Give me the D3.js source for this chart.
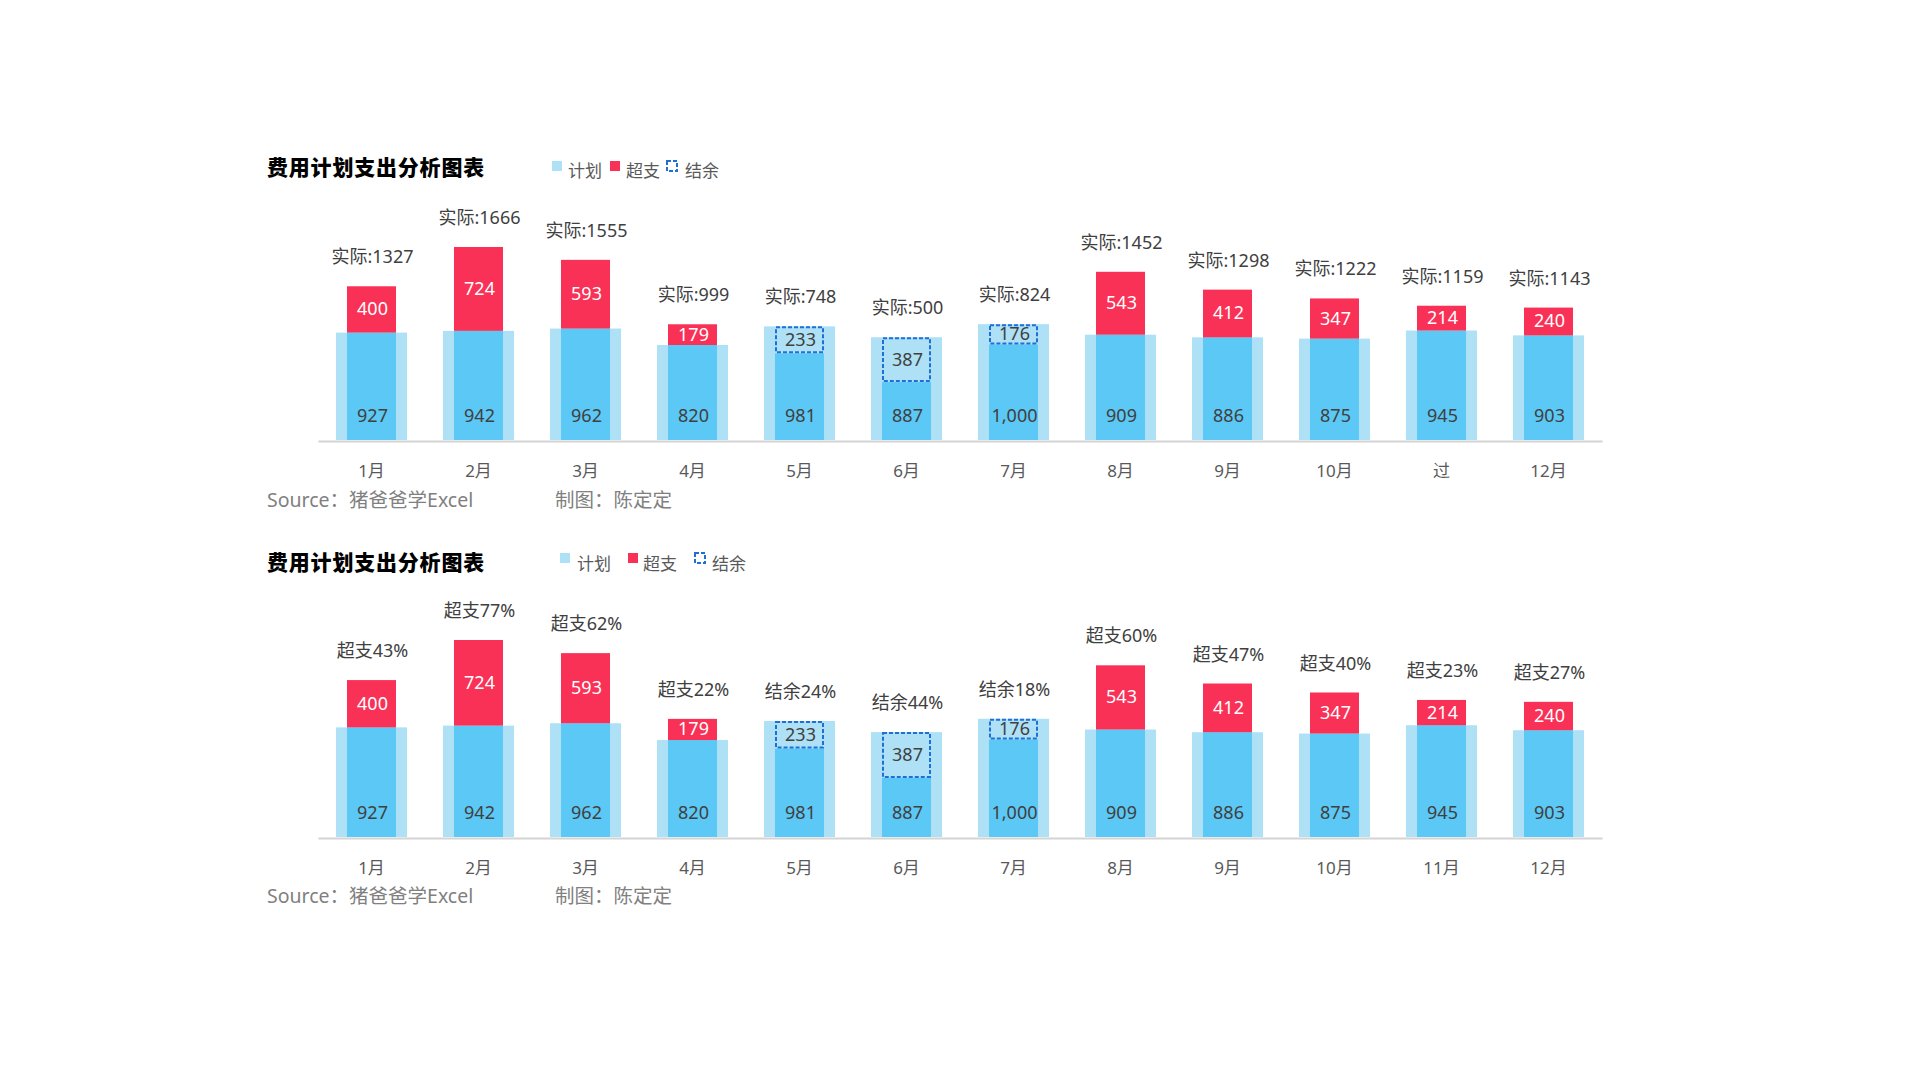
<!DOCTYPE html>
<html>
<head>
<meta charset="utf-8">
<script src="https://cdn.jsdelivr.net/npm/d3@7/dist/d3.min.js"></script>
<style>
  html, body { margin: 0; padding: 0; background: #ffffff; }
  svg { display: block; }
  text { font-family: "Noto Sans", "Noto Sans CJK SC", sans-serif; }
</style>
</head>
<body>
<svg id="chart" width="1920" height="1080"></svg>
<script>
// ---------------- data ----------------
const monthsTop    = ["1月","2月","3月","4月","5月","6月","7月","8月","9月","10月","过","12月"];
const monthsBottom = ["1月","2月","3月","4月","5月","6月","7月","8月","9月","10月","11月","12月"];
const plan   = [927, 942, 962, 820, 981, 887, 1000, 909, 886, 875, 945, 903];
const actual = [1327, 1666, 1555, 999, 748, 500, 824, 1452, 1298, 1222, 1159, 1143];
const chartTitle = "费用计划支出分析图表";
const legendNames = ["计划", "超支", "结余"];
const sourceText = "Source：猪爸爸学Excel";
const authorText = "制图：陈定定";

// ---------------- styles ----------------
const C = {
  light: "#AEE0F6",
  blue: "#5CC8F5",
  red: "#F93156",
  dash: "#1F6FD8",
  axis: "#D4D4D4",
  label: "#404040",
  month: "#595959",
  source: "#808080"
};

const svg = d3.select("#chart");
const fmtPlan = d3.format(",");

function drawChart(cfg) {
  const g = svg.append("g");
  const x = d3.scaleBand().domain(d3.range(plan.length)).range([318, 1602]).padding(0);
  const bw = x.bandwidth();
  const wideW = bw * 0.664, innerW = bw * 0.458;
  const y = d3.scaleLinear().domain([0, d3.max(actual)]).range([cfg.base, cfg.top]);

  const data = plan.map((p, i) => ({ i, p, a: actual[i], over: actual[i] - p }));

  // title
  g.append("text").attr("x", 267).attr("y", cfg.titleY)
    .attr("font-family", "'Noto Sans CJK SC', sans-serif")
    .attr("font-size", 21).attr("font-weight", 900).attr("letter-spacing", 0.8)
    .attr("fill", "#000").text(chartTitle);

  // legend
  const lg = g.append("g");
  const L = cfg.legend;
  lg.append("rect").attr("x", L.sq[0]).attr("y", L.sqY).attr("width", 10).attr("height", 10).attr("fill", C.light);
  lg.append("rect").attr("x", L.sq[1]).attr("y", L.sqY).attr("width", 10).attr("height", 10).attr("fill", C.red);
  lg.append("rect").attr("x", L.sq[2]).attr("y", L.sqY).attr("width", 10).attr("height", 10)
    .attr("fill", "none").attr("stroke", C.dash).attr("stroke-width", 2).attr("stroke-dasharray", "4,2");
  legendNames.forEach((n, k) => {
    lg.append("text").attr("x", L.tx[k]).attr("y", L.txY)
      .attr("font-size", 17).attr("fill", C.month).text(n);
  });

  // wide plan bars (light)
  g.selectAll("rect.wide").data(data).join("rect")
    .attr("x", d => x(d.i) + (bw - wideW) / 2)
    .attr("width", wideW)
    .attr("y", d => y(d.p))
    .attr("height", d => y(0) - y(d.p))
    .attr("fill", C.light);

  // inner solid bars (min of plan / actual)
  g.selectAll("rect.inner").data(data).join("rect")
    .attr("x", d => x(d.i) + (bw - innerW) / 2)
    .attr("width", innerW)
    .attr("y", d => y(Math.min(d.p, d.a)))
    .attr("height", d => y(0) - y(Math.min(d.p, d.a)))
    .attr("fill", C.blue);

  // overspend segments
  const overs = data.filter(d => d.over > 0);
  g.selectAll("rect.over").data(overs).join("rect")
    .attr("x", d => x(d.i) + (bw - innerW) / 2)
    .attr("width", innerW)
    .attr("y", d => y(d.a))
    .attr("height", d => y(d.p) - y(d.a))
    .attr("fill", C.red);

  // remainder dashed boxes
  const rems = data.filter(d => d.over < 0);
  g.selectAll("rect.rem").data(rems).join("rect")
    .attr("x", d => x(d.i) + (bw - innerW) / 2 + 1)
    .attr("width", innerW - 2)
    .attr("y", d => y(d.p) + 1)
    .attr("height", d => y(d.a) - y(d.p) - 2)
    .attr("fill", "none")
    .attr("stroke", C.dash).attr("stroke-width", 2).attr("stroke-dasharray", "4,2");

  // labels: plan value at bottom
  g.selectAll("text.plan").data(data).join("text")
    .attr("x", d => x(d.i) + bw / 2 + 1)
    .attr("y", cfg.base - 18)
    .attr("text-anchor", "middle").attr("font-size", 18).attr("fill", C.label)
    .text(d => fmtPlan(d.p));

  // overspend labels
  g.selectAll("text.over").data(overs).join("text")
    .attr("x", d => x(d.i) + bw / 2 + 1)
    .attr("y", d => (y(d.a) + y(d.p)) / 2 + 6)
    .attr("text-anchor", "middle").attr("font-size", 18).attr("fill", "#ffffff")
    .text(d => d.over);

  // remainder labels
  g.selectAll("text.rem").data(rems).join("text")
    .attr("x", d => x(d.i) + bw / 2 + 1)
    .attr("y", d => (y(d.a) + y(d.p)) / 2 + 6)
    .attr("text-anchor", "middle").attr("font-size", 18).attr("fill", C.label)
    .text(d => -d.over);

  // top labels
  g.selectAll("text.top").data(data).join("text")
    .attr("x", d => x(d.i) + bw / 2 + 1)
    .attr("y", d => y(Math.max(d.p, d.a)) - 23)
    .attr("text-anchor", "middle").attr("font-size", 18).attr("fill", C.label)
    .text(cfg.topLabel);

  // axis
  const axis = d3.axisBottom(x).tickSize(0).tickPadding(24).tickFormat(i => cfg.months[i]);
  const ag = g.append("g").attr("transform", `translate(0,${cfg.base + 1})`).call(axis);
  ag.select(".domain").attr("stroke", C.axis).attr("stroke-width", 2);
  ag.selectAll(".tick text").attr("font-size", 17).attr("fill", C.month)
    .attr("font-family", "'Noto Sans', 'Noto Sans CJK SC', sans-serif");

  // source line
  g.append("text").attr("x", 267).attr("y", cfg.srcY).attr("font-size", 19.5).attr("fill", C.source).text(sourceText);
  g.append("text").attr("x", 555).attr("y", cfg.srcY).attr("font-size", 19.5).attr("fill", C.source).text(authorText);
}

drawChart({
  base: 440, top: 247, titleY: 175, srcY: 507,
  months: monthsTop,
  legend: { sq: [552, 610, 667], sqY: 161, tx: [568, 626, 685], txY: 177 },
  topLabel: d => "实际:" + d.a
});

drawChart({
  base: 837, top: 640, titleY: 570, srcY: 903,
  months: monthsBottom,
  legend: { sq: [560, 628, 695], sqY: 553, tx: [577, 643, 712], txY: 570 },
  topLabel: d => (d.over > 0 ? "超支" : "结余") + Math.round(Math.abs(d.over) / d.p * 100) + "%"
});
</script>
</body>
</html>
